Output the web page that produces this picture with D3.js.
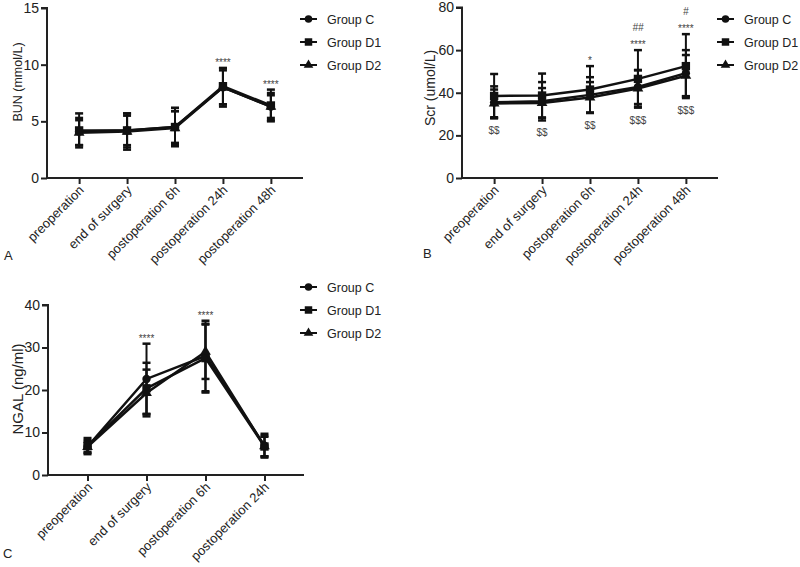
<!DOCTYPE html>
<html lang="en">
<head>
    <meta charset="utf-8">
    <script src="https://d3js.org/d3.v7.min.js"></script>
    <title>BUN Scr NGAL</title>
    <style>
        body {margin: 0; background: #fff;}
        svg {display: block; font-family: "Liberation Sans", Arial, sans-serif;}
        .axis path, .axis line {stroke: #222; stroke-width: 2px;}
        .axis text {font-size: 13px; fill: #222;}
        .note {font-size: 10px; fill: #444; text-anchor: middle;}
    </style>
</head>
<body>
<svg width="800" height="567"></svg>

<script>
    // categories
    var timesAB = ['preoperation', 'end of surgery', 'postoperation 6h', 'postoperation 24h', 'postoperation 48h'];
    var timesC = ['preoperation', 'end of surgery', 'postoperation 6h', 'postoperation 24h'];
    var groups = ['Group C', 'Group D1', 'Group D2'];

    // BUN (mmol/L) mean and SD
    var bunC = [4.1, 4.2, 4.5, 8.0, 6.3];
    var bunD1 = [4.2, 4.2, 4.5, 8.1, 6.4];
    var bunD2 = [4.0, 4.1, 4.4, 8.0, 6.3];
    var bunSdC = [1.2, 1.5, 1.7, 1.7, 1.2];
    var bunSdD1 = [1.5, 1.3, 1.4, 1.6, 1.4];
    var bunSdD2 = [1.1, 1.6, 1.5, 1.5, 1.0];
    var bunStars = ['', '', '', '****', '****'];

    // Scr (umol/L) mean and SD
    var scrC = [35.5, 36.0, 39.0, 42.7, 49.2];
    var scrD1 = [38.5, 38.7, 41.5, 46.5, 52.5];
    var scrD2 = [35.0, 35.2, 37.8, 42.0, 48.0];
    var scrSdC = [7.5, 9.0, 8.3, 8.0, 10.8];
    var scrSdD1 = [10.3, 10.3, 11.0, 13.5, 15.0];
    var scrSdD2 = [6.5, 7.0, 7.2, 8.5, 9.7];
    var scrStars = ['', '', '*', '****', '****'];
    var scrHash = ['', '', '', '##', '#'];
    var scrDollar = ['$$', '$$', '$$', '$$$', '$$$'];

    // NGAL (ng/ml) mean and SD
    var ngalC = [6.7, 22.6, 28.0, 6.9];
    var ngalD1 = [6.8, 20.4, 27.5, 6.7];
    var ngalD2 = [6.6, 19.3, 29.0, 6.8];
    var ngalSdC = [1.5, 8.3, 8.3, 2.8];
    var ngalSdD1 = [1.9, 6.0, 8.1, 2.3];
    var ngalSdD2 = [1.2, 5.5, 6.4, 2.4];
    var ngalStars = ['', '****', '****', ''];

    var yTicksA = [0, 5, 10, 15];
    var yTicksB = [0, 20, 40, 60, 80];
    var yTicksC = [0, 10, 20, 30, 40];

    var svg = d3.select('svg');
    var symbols = [d3.symbolCircle, d3.symbolSquare, d3.symbolTriangle];
    var symSize = [55, 70, 50];

    function panel(o) {
        var x = d3.scalePoint().domain(o.cats).range([o.left, o.left + 256]).padding(0.67);
        var y = d3.scaleLinear().domain([0, o.max]).range([o.bottom, o.top]);

        svg.append('g').attr('class', 'axis')
            .attr('transform', 'translate(' + o.left + ',0)')
            .call(d3.axisLeft(y).tickValues(o.ticks).tickSize(6).tickPadding(2))
            .call(g => g.select('.domain').attr('d', 'M-6,' + o.top + 'H0V' + o.bottom))
            .call(g => g.selectAll('text').style('font-size', '14px'));

        var xa = svg.append('g').attr('class', 'axis')
            .attr('transform', 'translate(0,' + o.bottom + ')')
            .call(d3.axisBottom(x).tickSize(6).tickSizeOuter(0));
        xa.select('.domain').attr('d', 'M' + o.left + ',0H' + (o.left + 256));
        xa.selectAll('text')
            .attr('text-anchor', 'end')
            .attr('dy', null).attr('y', 0)
            .attr('transform', 'translate(5,13) rotate(-45)');

        svg.append('text')
            .attr('transform', 'translate(' + o.titleX + ',' + o.titleY + ') rotate(-90)')
            .attr('text-anchor', 'middle').attr('font-size', o.titleSize).attr('fill', '#222')
            .text(o.title);

        svg.append('text').attr('x', o.labX).attr('y', o.labY)
            .attr('font-size', 13).attr('fill', '#222').text(o.label);

        var line = d3.line().x((d, i) => x(o.cats[i])).y(d => y(d));

        o.means.forEach(function (m, gi) {
            var sd = o.sds[gi];
            var eb = svg.append('g').attr('stroke', '#111').attr('stroke-width', 2);
            m.forEach(function (v, i) {
                var cx = x(o.cats[i]);
                eb.append('line').attr('x1', cx).attr('x2', cx)
                    .attr('y1', y(v - sd[i])).attr('y2', y(v + sd[i]));
                [v - sd[i], v + sd[i]].forEach(function (e) {
                    eb.append('line').attr('x1', cx - 4).attr('x2', cx + 4)
                        .attr('y1', y(e)).attr('y2', y(e)).attr('stroke-width', 2.5);
                });
            });
        });

        o.means.forEach(function (m, gi) {
            svg.append('path').datum(m).attr('d', line)
                .attr('fill', 'none').attr('stroke', '#111').attr('stroke-width', 2.5);
            svg.append('g').selectAll('path').data(m).enter().append('path')
                .attr('transform', (d, i) => 'translate(' + x(o.cats[i]) + ',' + y(d) + ')')
                .attr('d', d3.symbol().type(symbols[gi]).size(symSize[gi]))
                .attr('fill', '#111');
        });

        // significance marks
        o.cats.forEach(function (c, i) {
            var hi = d3.max(o.means, (m, gi) => m[i] + o.sds[gi][i]);
            var lo = d3.min(o.means, (m, gi) => m[i] - o.sds[gi][i]);
            if (o.stars && o.stars[i]) {
                svg.append('text').attr('class', 'note').attr('x', x(c))
                    .attr('y', y(hi) - 2).text(o.stars[i]);
            }
            if (o.hash && o.hash[i]) {
                svg.append('text').attr('class', 'note').attr('x', x(c))
                    .attr('y', y(hi) - 19).attr('font-style', 'italic').text(o.hash[i]);
            }
            if (o.dollar && o.dollar[i]) {
                svg.append('text').attr('class', 'note').attr('x', x(c))
                    .attr('y', y(lo) + 16).attr('font-size', 11).text(o.dollar[i]);
            }
        });

        // legend
        groups.forEach(function (g, gi) {
            var ly = o.legY + gi * 23;
            svg.append('line').attr('x1', o.legX).attr('x2', o.legX + 17)
                .attr('y1', ly).attr('y2', ly).attr('stroke', '#111').attr('stroke-width', 2);
            svg.append('path').attr('transform', 'translate(' + (o.legX + 8.5) + ',' + ly + ')')
                .attr('d', d3.symbol().type(symbols[gi]).size(symSize[gi] * 0.8)).attr('fill', '#111');
            svg.append('text').attr('x', o.legX + 27).attr('y', ly + 5)
                .attr('font-size', 12.5).attr('fill', '#222').text(g);
        });
    }

    panel({cats: timesAB, means: [bunC, bunD1, bunD2], sds: [bunSdC, bunSdD1, bunSdD2],
        max: 15, ticks: yTicksA, left: 47, top: 8, bottom: 178,
        title: 'BUN (mmol/L)', titleSize: 12.5, titleX: 22, titleY: 82, label: 'A', labX: 4, labY: 260,
        stars: bunStars, legX: 300, legY: 19});

    panel({cats: timesAB, means: [scrC, scrD1, scrD2], sds: [scrSdC, scrSdD1, scrSdD2],
        max: 80, ticks: yTicksB, left: 462, top: 7.5, bottom: 178,
        title: 'Scr (umol/L)', titleSize: 14, titleX: 435, titleY: 88, label: 'B', labX: 423, labY: 258,
        stars: scrStars, hash: scrHash, dollar: scrDollar, legX: 717, legY: 19});

    panel({cats: timesC, means: [ngalC, ngalD1, ngalD2], sds: [ngalSdC, ngalSdD1, ngalSdD2],
        max: 40, ticks: yTicksC, left: 48, top: 305, bottom: 475,
        title: 'NGAL (ng/ml)', titleSize: 15, titleX: 23, titleY: 389, label: 'C', labX: 3, labY: 558,
        stars: ngalStars, legX: 300, legY: 287});
</script>
</body>
</html>
